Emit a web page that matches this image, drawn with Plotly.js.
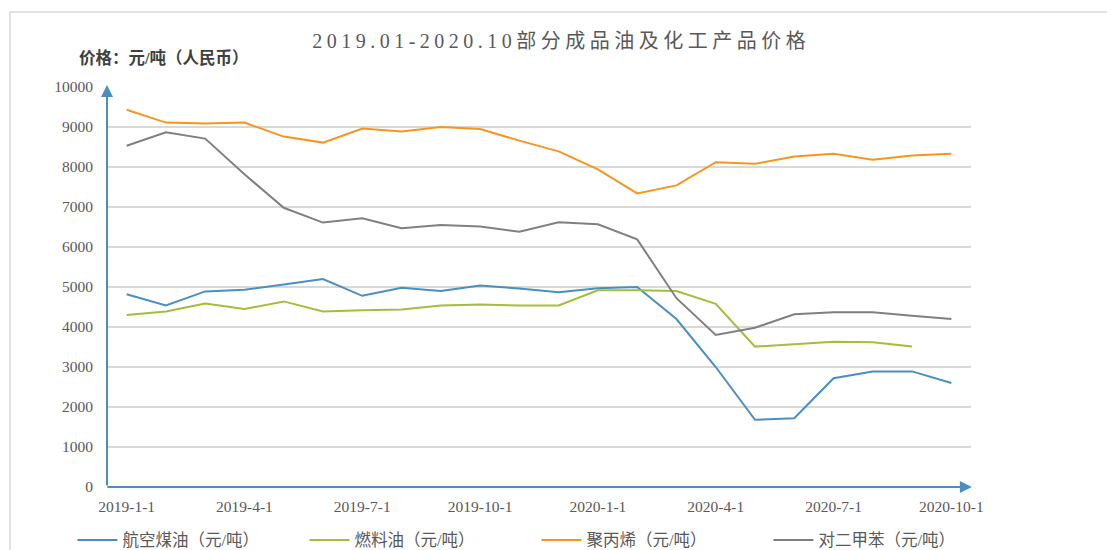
<!DOCTYPE html>
<html>
<head>
<meta charset="utf-8">
<script src="https://cdn.plot.ly/plotly-3.0.1.min.js"></script>
<style>
html,body{margin:0;padding:0;background:#fff;}
#chart{width:1107px;height:550px;}
.gtitle{letter-spacing:4.5px;}
</style>
</head>
<body>
<div id="chart"></div>
<script>
var months = ["2019-1-1","2019-2-1","2019-3-1","2019-4-1","2019-5-1","2019-6-1","2019-7-1","2019-8-1","2019-9-1","2019-10-1","2019-11-1","2019-12-1",
              "2020-1-1","2020-2-1","2020-3-1","2020-4-1","2020-5-1","2020-6-1","2020-7-1","2020-8-1","2020-9-1","2020-10-1"];
var tickLabels = ["2019-1-1","2019-4-1","2019-7-1","2019-10-1","2020-1-1","2020-4-1","2020-7-1","2020-10-1"];
var seriesNames = ["航空煤油（元/吨）","燃料油（元/吨）","聚丙烯（元/吨）","对二甲苯（元/吨）"];
var jetFuel = [4820,4540,4890,4930,5060,5200,4780,4980,4900,5040,4960,4870,4970,5000,4200,3000,1680,1720,2720,2890,2890,2600];
var fuelOil = [4300,4390,4590,4450,4640,4390,4420,4440,4540,4560,4540,4540,4920,4920,4900,4580,3510,3570,3630,3620,3510];
var polypropylene = [9430,9110,9090,9110,8760,8610,8960,8890,9000,8950,8660,8390,7940,7340,7540,8120,8080,8260,8330,8180,8290,8330];
var paraxylene = [8530,8870,8710,7820,6980,6610,6720,6470,6550,6510,6380,6620,6570,6190,4720,3800,3980,4320,4370,4370,4280,4200];

var colors = ["#4a8fbf","#a3bd3c","#f7961e","#808080"];
var values = [jetFuel, fuelOil, polypropylene, paraxylene];
var font = "Liberation Serif, 'Noto Sans CJK SC', serif";

var traces = values.map(function(v, i){
  return {
    type: "scatter", mode: "lines",
    x: months.slice(0, v.length), y: v,
    name: seriesNames[i],
    line: {color: colors[i], width: 2}
  };
});

var axisColor = "#4a8fbf";
var layout = {
  width: 1107, height: 550,
  margin: {l: 107, r: 136, t: 87, b: 63, autoexpand: false},
  paper_bgcolor: "#fff", plot_bgcolor: "#fff",
  font: {family: font, color: "#595959", size: 15},
  title: {
    text: "2019.01-2020.10部分成品油及化工产品价格",
    x: 0.507, xanchor: "center", y: 0.925, yanchor: "middle",
    font: {family: font, size: 20, color: "#595959"}
  },
  showlegend: true,
  legend: {
    orientation: "h", x: -0.04, xanchor: "left", y: -0.133, yanchor: "middle",
    bgcolor: "rgba(0,0,0,0)",
    font: {family: font, size: 16.5, color: "#595959"},
    entrywidth: 177, entrywidthmode: "pixels", itemwidth: 40, tracegroupgap: 0
  },
  xaxis: {
    type: "category", range: [-0.5, 21.5],
    tickvals: tickLabels, ticktext: tickLabels,
    showgrid: false, zeroline: false, showline: false,
    ticks: "", ticklabelstandoff: 8,
    tickfont: {family: font, size: 15.5, color: "#595959"}
  },
  yaxis: {
    range: [0, 10000], dtick: 1000, tickformat: "d",
    showgrid: true, gridcolor: "#d9d9d9", gridwidth: 1.5,
    zeroline: false, showline: false, ticks: "", ticklabelstandoff: 13,
    tickfont: {family: font, size: 15.5, color: "#595959"}
  },
  shapes: [
    {type: "rect", xref: "paper", yref: "paper", x0: -0.1123, x1: 1.2, y0: -0.25, y1: 1.1875,
     line: {color: "#d9d9d9", width: 1.5}, fillcolor: "rgba(0,0,0,0)", layer: "below"}
  ],
  annotations: [
    {xref: "paper", yref: "paper", x: 0, y: 1.005, ax: 0, ay: 402, axref: "pixel", ayref: "pixel",
     text: "", showarrow: true, arrowhead: 2, arrowsize: 1.2, arrowwidth: 2, arrowcolor: axisColor,
     standoff: 0, startstandoff: 0},
    {xref: "paper", yref: "paper", x: 1.001, y: 0, ax: -866, ay: 0, axref: "pixel", ayref: "pixel",
     text: "", showarrow: true, arrowhead: 2, arrowsize: 1.2, arrowwidth: 2, arrowcolor: axisColor,
     standoff: 0, startstandoff: 0},
    {xref: "paper", yref: "paper", x: -0.035, y: 1.0725, xanchor: "left", yanchor: "middle",
     text: "<b>价格：元/吨（人民币）</b>", showarrow: false,
     font: {family: font, size: 16.5, color: "#404040"}}
  ]
};

Plotly.newPlot("chart", traces, layout, {displayModeBar: false, staticPlot: true});
</script>
</body>
</html>
